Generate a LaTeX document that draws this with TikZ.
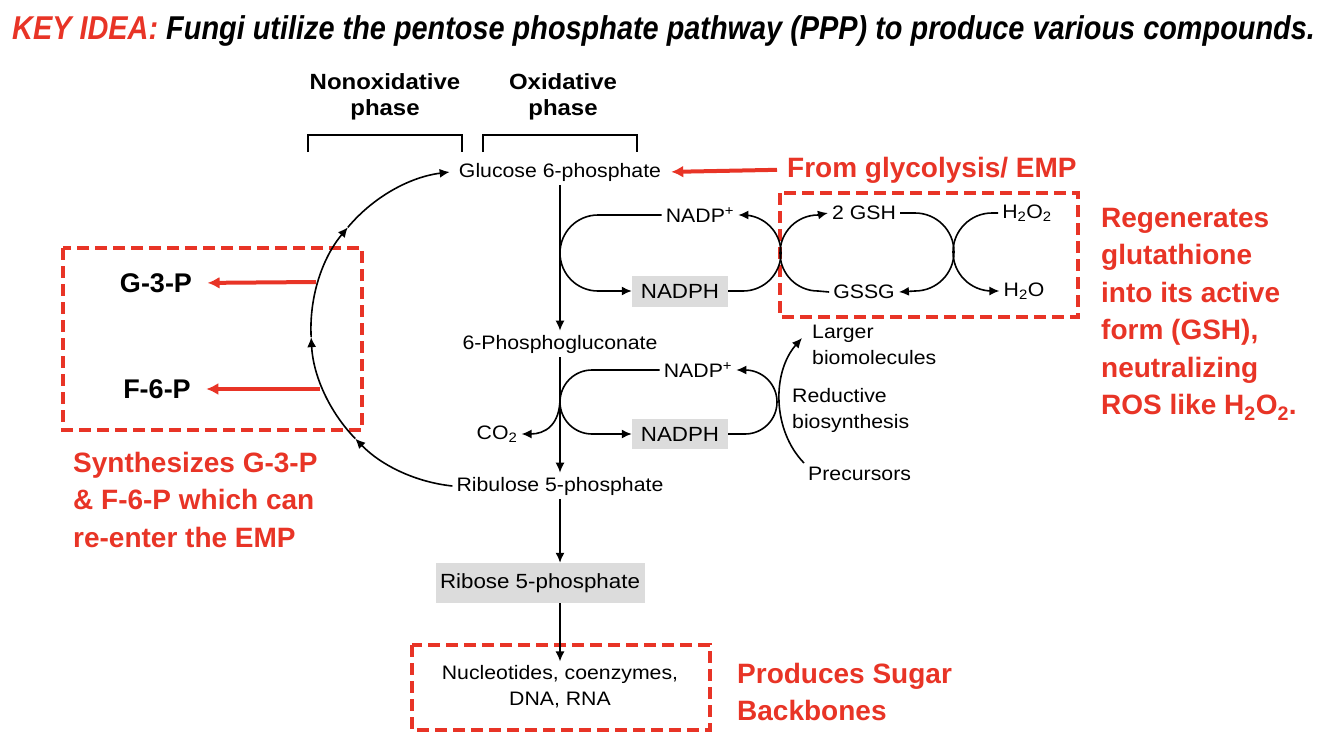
\documentclass[tikz,border=0pt]{standalone}
\usepackage{fontspec}
\setmainfont{Liberation Sans}
\newfontfamily\diagfont[FakeStretch=1.09]{Liberation Sans}
\newfontfamily\titlefont[FakeStretch=0.875]{Liberation Sans}
\usetikzlibrary{arrows.meta}
\definecolor{keyred}{RGB}{232,52,38}
\definecolor{boxgray}{RGB}{220,220,220}

\begin{document}
\begin{tikzpicture}[x=1pt, y=-1pt,
  >={Latex[length=10pt,width=9pt]},
  lbl/.style={font=\diagfont\fontsize{19.5}{26}\selectfont, inner sep=4pt},
  grey/.style={fill=boxgray, inner sep=4pt, font=\diagfont\fontsize{20.5}{24}\selectfont},
  phase/.style={font=\diagfont\bfseries\fontsize{22}{26}\selectfont, align=center},
  metab/.style={font=\bfseries\fontsize{27}{30}\selectfont},
  note/.style={font=\bfseries\fontsize{28}{37.5}\selectfont, text=keyred, align=left, inner sep=0pt},
  flow/.style={line width=1.6pt},
  dashbox/.style={keyred, line width=3.5pt, dash pattern=on 12pt off 6pt},
  redarrow/.style={keyred, line width=4pt, -{Latex[length=12pt,width=12pt]}}]
\useasboundingbox (0,0) rectangle (1328,744);

% Titel
\node[anchor=base west, inner sep=0pt, font=\titlefont\bfseries\itshape\fontsize{33}{40}\selectfont] (title) at (12,39)
  {\textcolor{keyred}{KEY IDEA:} Fungi utilize the pentose phosphate pathway (PPP) to produce various compounds.};

% Phasen
\node[phase] (nonox) at (385,97) {Nonoxidative\\phase};
\node[phase] (oxid) at (563,97) {Oxidative\\phase};
\draw[line width=1.5pt] (308,152) |- (462,135) -- (462,152);
\draw[line width=1.5pt] (483,152) |- (637,135) -- (637,152);

% Markierungen
\draw[dashbox] (63,248) rectangle (362,430);
\draw[dashbox] (780,193) rectangle (1078,317);
\draw[dashbox] (412,645) rectangle (710,730);

% Hauptweg
\node[lbl] (glu) at (560,172) {Glucose 6-phosphate};
\node[lbl] (pg) at (560,344) {6-Phosphogluconate};
\node[lbl] (rib) at (560,486) {Ribulose 5-phosphate};
\node[grey, minimum width=209pt, minimum height=40pt] (ribo) at (540,583) {Ribose 5-phosphate};
\node[lbl, align=center] (nuc) at (560,687) {Nucleotides, coenzymes,\\DNA, RNA};
\draw[flow,->] (glu.south) -- (pg.north);
\draw[flow,->] (pg.south) -- (rib.north);
\draw[flow,->] (rib.south) -- (rib.south |- ribo.north);
\draw[flow,->] (rib.south |- ribo.south) -- (nuc.north);

% NADPH (oben)
\node[lbl] (nadpA) at (700,215) {NADP\textsuperscript{+}};
\node[grey, minimum width=96pt, minimum height=31pt] (nadphA) at (680,291) {NADPH};
\draw[flow,->] (nadpA.west) -- (598,215) arc[start angle=90, end angle=270, radius=38pt] -- (nadphA.west);
\draw[flow,->] (nadphA.east) -- (743,291) arc[start angle=-90, end angle=90, radius=38pt] -- (nadpA.east);

% Glutathion
\node[lbl] (gsh) at (864,213) {2 GSH};
\node[lbl] (gssg) at (864,292) {GSSG};
\node[lbl] (hho) at (1027,213) {H\textsubscript{2}O\textsubscript{2}};
\node[lbl] (ho) at (1024,291) {H\textsubscript{2}O};
\draw[flow,->] (gssg.west) -- (818,291) arc[start angle=270, end angle=90, radius=38pt] -- (gsh.west);
\draw[flow,->] (gsh.east) -- (915,213) arc[start angle=90, end angle=-90, radius=39pt] -- (gssg.east);
\draw[flow,->] (hho.west) -- (992,213) arc[start angle=90, end angle=270, radius=39pt] -- (ho.west);

% NADPH (unten)
\node[lbl] (nadpB) at (698,370) {NADP\textsuperscript{+}};
\node[grey, minimum width=96pt, minimum height=30pt] (nadphB) at (680,434) {NADPH};
\node[lbl] (co2) at (497,434) {CO\textsubscript{2}};
\draw[flow,->] (nadpB.west) -- (592,370) arc[start angle=90, end angle=270, radius=32pt] -- (nadphB.west);
\draw[flow,->] (nadphB.east) -- (745,434) arc[start angle=-90, end angle=90, radius=32pt] -- (nadpB.east);
\coordinate (split) at (560,398);
\draw[flow,->] (split) .. controls (560,425) and (545,434) .. (co2.east);

% Biosynthese
\node[lbl, align=left, anchor=west] (larger) at (808,345) {Larger\\biomolecules};
\node[lbl, align=left, anchor=west] (redu) at (788,410) {Reductive\\biosynthesis};
\node[lbl, anchor=west] (prec) at (804,474) {Precursors};
\coordinate (bioend) at (802,338);
\draw[flow,->] (prec.north west) .. controls (772,430) and (772,372) .. (bioend);

% nichtoxidative Phase
\draw[flow,->] (rib.west) arc[start angle=264, end angle=224, radius=158pt] coordinate (r1);
\draw[flow,->] (r1) arc[start angle=224, end angle=183, radius=158pt] coordinate (r2);
\draw[flow,->] (r2) arc[start angle=183, end angle=140, radius=158pt] coordinate (r3);
\draw[flow,->] (r3) arc[start angle=140, end angle=97, radius=158pt];

\node[metab] (g3p) at (156,283) {G-3-P};
\node[metab] (f6p) at (157,389) {F-6-P};
\coordinate (g3pout) at (316,282);
\coordinate (f6pout) at (320,389);
\draw[redarrow, shorten >=12pt] (g3pout) -- (g3p.east);
\draw[redarrow, shorten >=12pt] (f6pout) -- (f6p.east);

% Anmerkungen
\node[note, anchor=base west] (glyc) at (787,177) {From glycolysis/ EMP};
\draw[redarrow, shorten >=6pt] ([xshift=-10pt]glyc.west) -- (glu.east);
\node[note, anchor=north west] (gshnote) at (1101,208)
  {Regenerates\\glutathione\\into its active\\form (GSH),\\neutralizing\\ROS like H\textsubscript{2}O\textsubscript{2}.};
\node[note, anchor=north west] (ppnote) at (73,452) {Synthesizes G-3-P\\\& F-6-P which can\\re-enter the EMP};
\node[note, anchor=north west] (sugnote) at (737,663) {Produces Sugar\\Backbones};
\end{tikzpicture}
\end{document}
